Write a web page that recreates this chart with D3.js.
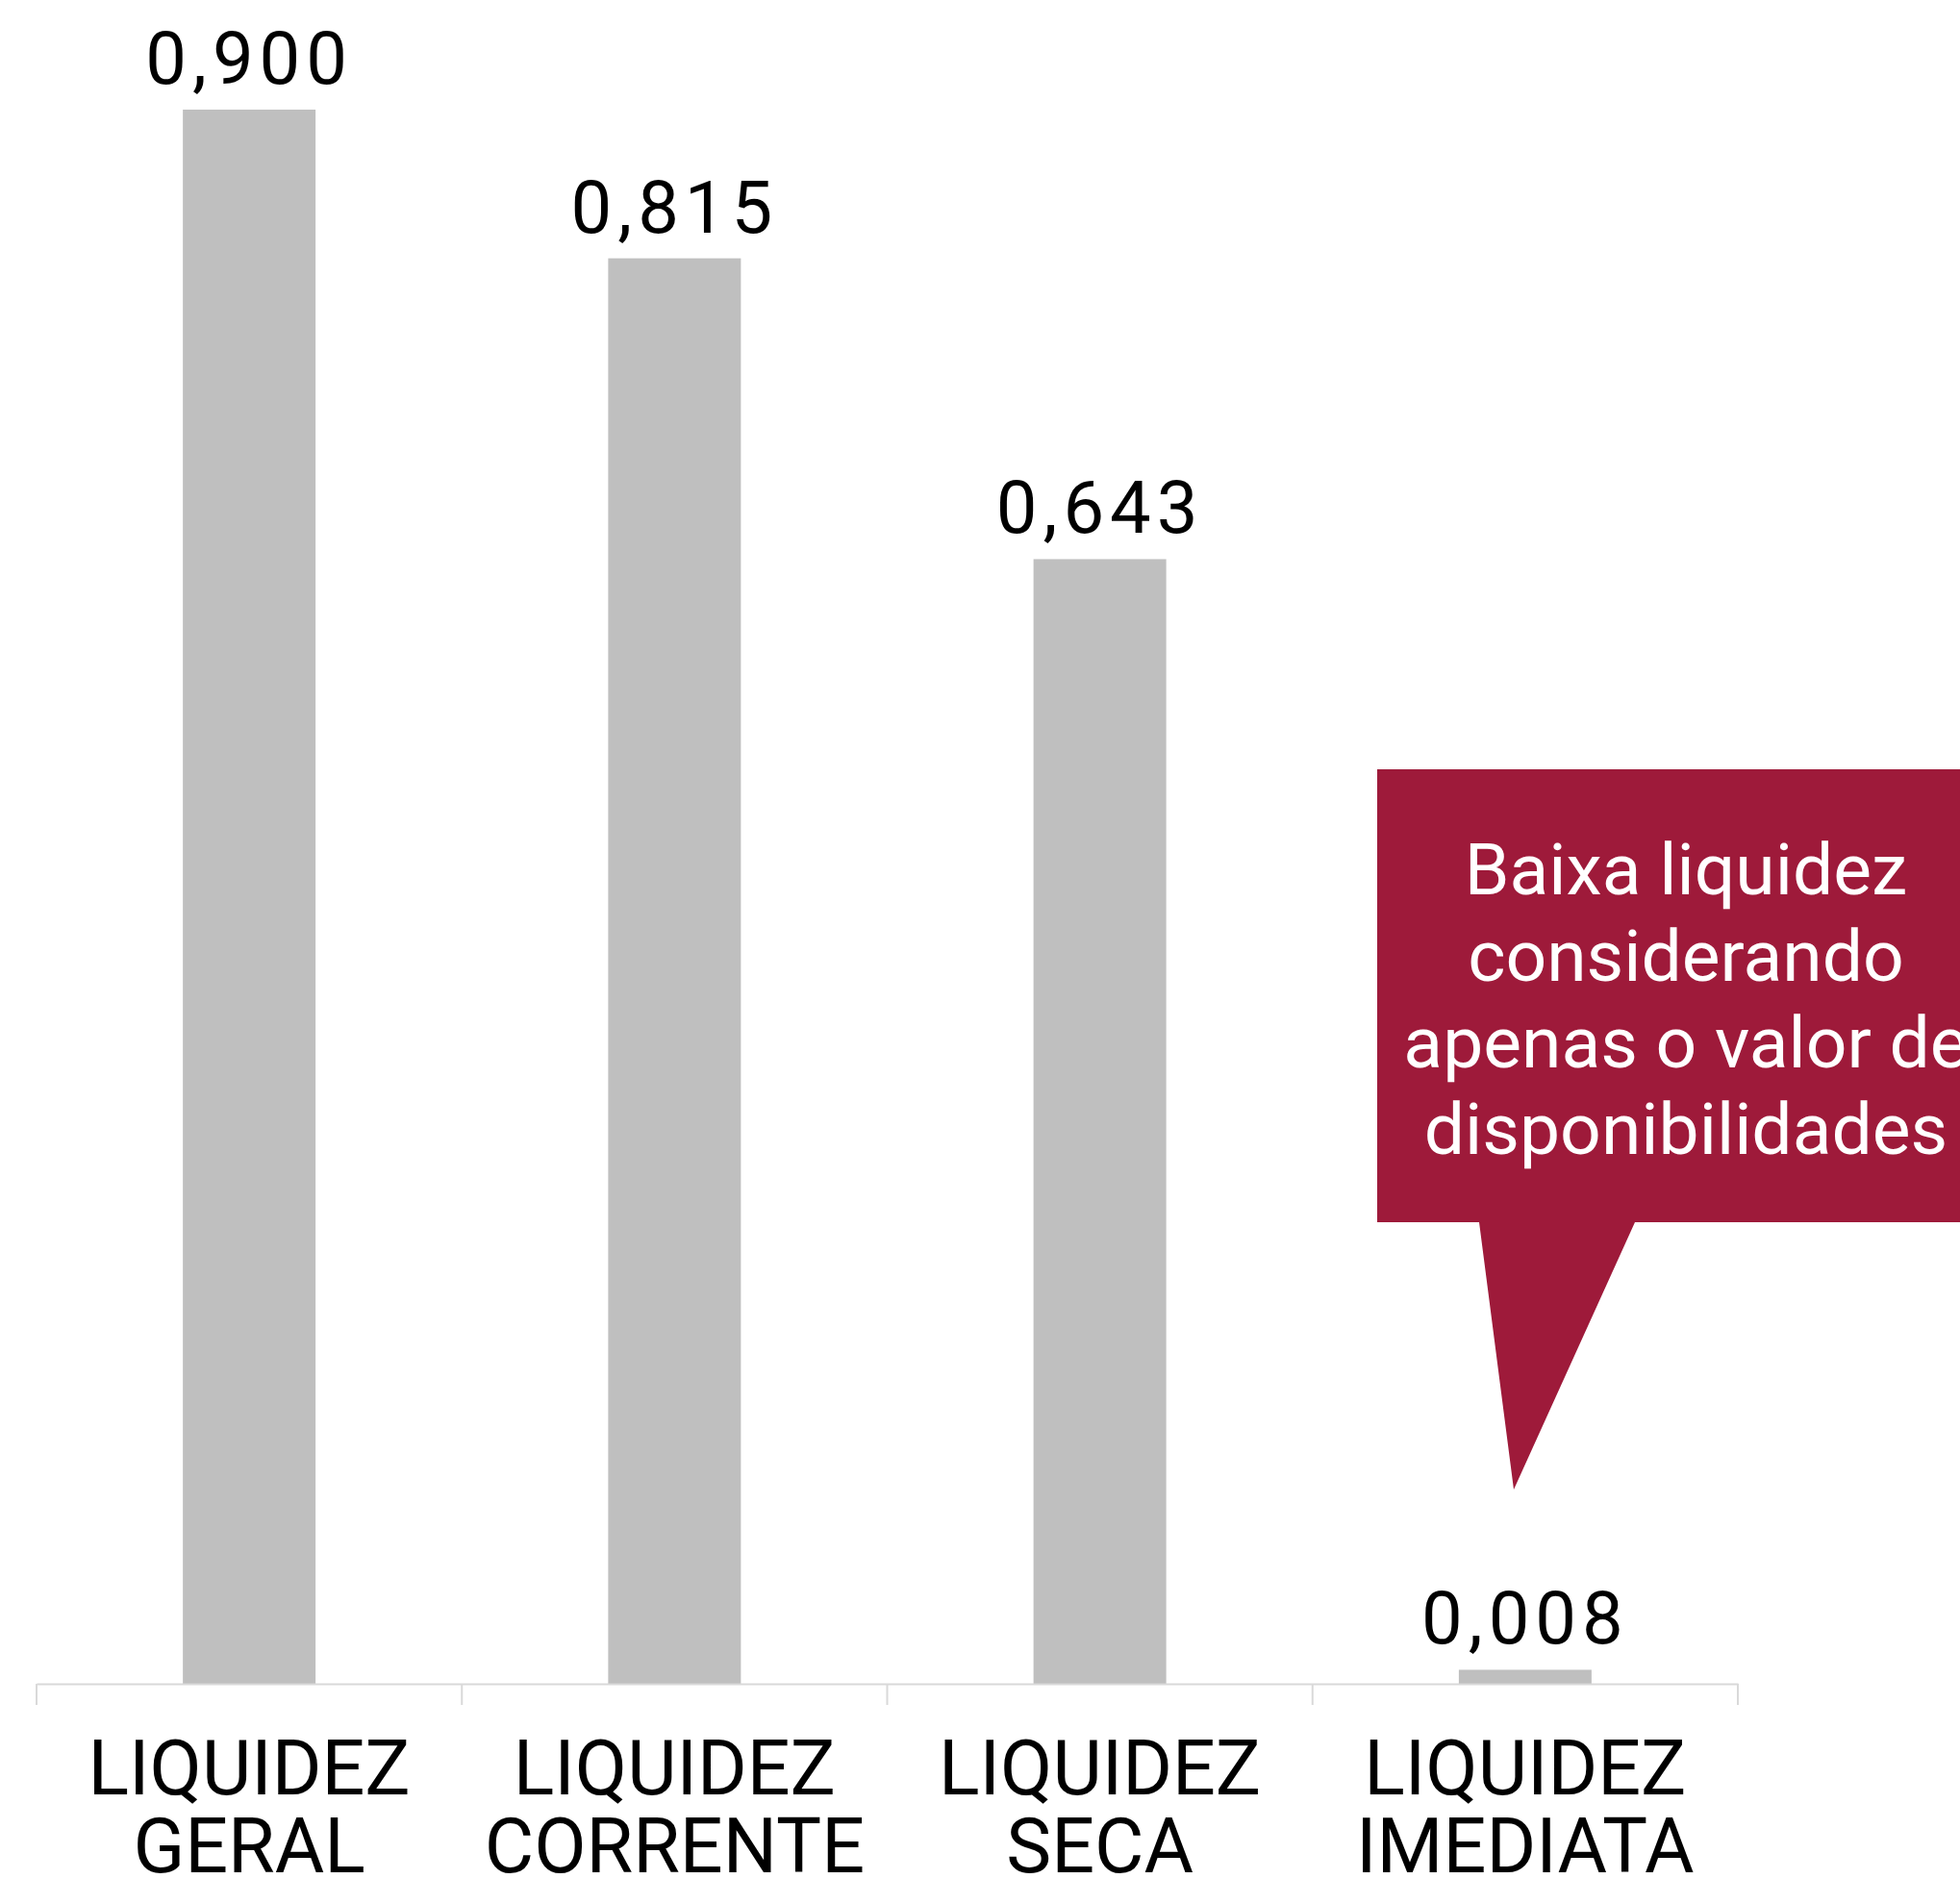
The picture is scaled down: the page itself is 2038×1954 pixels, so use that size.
<!DOCTYPE html>
<html><head><meta charset="utf-8">
<script src="https://cdn.jsdelivr.net/npm/d3@7"></script>
<style>html,body{margin:0;padding:0;background:#fff;overflow:hidden}</style>
</head><body>
<script>
const categories = [["LIQUIDEZ","GERAL"],["LIQUIDEZ","CORRENTE"],["LIQUIDEZ","SECA"],["LIQUIDEZ","IMEDIATA"]];
const values = [0.900, 0.815, 0.643, 0.008];
const valueLabels = ["0,900","0,815","0,643","0,008"];
const calloutLines = ["Baixa liquidez","considerando","apenas o valor de","disponibilidades"];

const W = 2038, H = 1954;
const svg = d3.select("body").append("svg").attr("width", W).attr("height", H);

const ids = categories.map((c,i)=>i);
const x = d3.scaleBand().domain(ids).range([38, 1807]).paddingInner(0.688).paddingOuter(0.344);
const y = d3.scaleLinear().domain([0, 0.9]).range([1751, 114]);

// bars
svg.append("g").selectAll("rect").data(values).join("rect")
  .attr("x", (d,i)=>x(i)).attr("width", x.bandwidth())
  .attr("y", d=>y(d)).attr("height", d=>y(0)-y(d))
  .attr("fill", "#bfbfbf");

// value labels
svg.append("g").selectAll("text").data(values).join("text")
  .attr("x", (d,i)=>x(i)+x.bandwidth()/2).attr("y", d=>y(d)-27)
  .attr("text-anchor","middle")
  .style("font-family","Roboto").style("font-size","76px").style("letter-spacing","6px")
  .attr("fill","#000")
  .text((d,i)=>valueLabels[i]);

// axis
const axis = d3.axisBottom(x).tickSize(0).tickFormat("");
const ag = svg.append("g").attr("transform", `translate(0,${y(0)})`).call(axis);
ag.select(".domain").attr("stroke","#d9d9d9").attr("stroke-width",2);
const gap = (x.step()-x.bandwidth())/2;
const bounds = ids.map(i=>x(i)-gap).concat([x(ids[ids.length-1])+x.bandwidth()+gap]);
ag.selectAll("line.bd").data(bounds).join("line").attr("class","bd")
  .attr("x1",d=>d).attr("x2",d=>d).attr("y1",0).attr("y2",22)
  .attr("stroke","#d9d9d9").attr("stroke-width",2);

// category labels
const cl = svg.append("g").selectAll("text").data(categories).join("text")
  .attr("x",(d,i)=>x(i)+x.bandwidth()/2).attr("y", 1866)
  .attr("text-anchor","middle")
  .style("font-family","Roboto").style("font-size","79px").attr("fill","#000");
cl.selectAll("tspan").data(d=>d).join("tspan")
  .attr("x", function(){return d3.select(this.parentNode).attr("x");})
  .attr("dy",(d,i)=>i===0?0:81).text(d=>d);

// callout
const cg = svg.append("g");
cg.append("path")
  .attr("d", "M1432,800 L2100,800 L2100,1271 L1700,1271 L1574,1549 L1538,1271 L1432,1271 Z")
  .attr("fill","#9e1a3a");
cg.selectAll("text").data(calloutLines).join("text")
  .attr("x",1753).attr("y",(d,i)=>930+i*90)
  .attr("text-anchor","middle")
  .style("font-family","Roboto").style("font-size","75px").attr("fill","#fff")
  .text(d=>d);
</script>
</body></html>
